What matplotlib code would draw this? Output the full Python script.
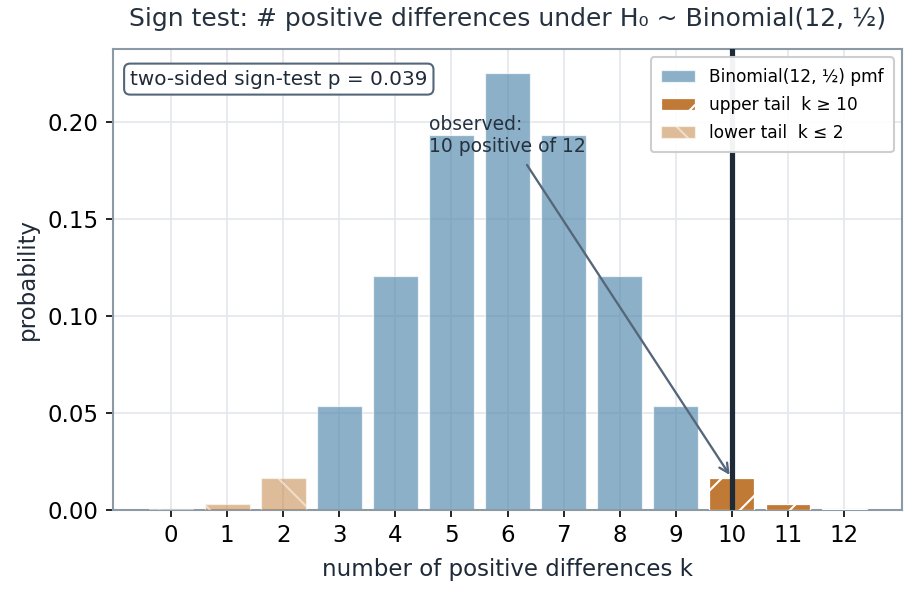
import matplotlib
matplotlib.use("Agg")
import matplotlib.pyplot as plt
import numpy as np

k_values = list(range(13))
pmf_values = [0.000244, 0.00293, 0.0161, 0.0537, 0.1208, 0.1934, 0.2256,
              0.1934, 0.1208, 0.0537, 0.0161, 0.00293, 0.000244]
observed_k = 10
n_trials = 12
p_value = 0.039
upper_tail = [10, 11, 12]
lower_tail = [0, 1, 2]

plt.rcParams['hatch.color'] = 'white'
plt.rcParams['hatch.linewidth'] = 1.0

fig = plt.figure(figsize=(6.12, 5.96 * 6.12 / 9.18), dpi=150)
ax = fig.add_axes([0.1228, 0.145, 0.8602, 0.773])

ax.grid(True, color="#e3e8ee", linewidth=0.8, zorder=0)
ax.set_axisbelow(True)

mid = [k for k in k_values if k not in upper_tail and k not in lower_tail]
ax.bar(mid, [pmf_values[k] for k in mid], width=0.8, color="#5b8fb0", alpha=0.7,
       edgecolor="white", linewidth=0.6, label="Binomial(12, ½) pmf", zorder=2)
ax.bar(upper_tail, [pmf_values[k] for k in upper_tail], width=0.8, color="#c07a35",
       edgecolor="white", linewidth=0.6, hatch="/", label="upper tail  k ≥ 10", zorder=3)
ax.bar(lower_tail, [pmf_values[k] for k in lower_tail], width=0.8, color="#c07a35",
       alpha=0.5, edgecolor="white", linewidth=0.6, hatch="\\", label="lower tail  k ≤ 2", zorder=3)

ax.axvline(observed_k, color="#1f2a38", linewidth=2.5, zorder=4)

ax.annotate("observed:\n10 positive of 12", xy=(observed_k, pmf_values[observed_k]),
            xytext=(4.6, 0.1935), va="center", ha="left", fontsize=9, color="#263140",
            arrowprops=dict(arrowstyle="->", color="#56667a", lw=1.1, mutation_scale=11,
                            shrinkA=3, shrinkB=2),
            zorder=5)

ax.text(0.022, 0.955, f"two-sided sign-test p = {p_value:.3f}", transform=ax.transAxes,
        fontsize=9.6, color="#1f2a38", va="top", ha="left",
        bbox=dict(boxstyle="round,pad=0.3", fc="white", ec="#56667a", lw=1.0), zorder=6)

ax.set_xticks(k_values)
ax.set_ylim(0, max(pmf_values) * 1.055)
ax.tick_params(labelsize=11)
for s in ax.spines.values():
    s.set_color("#8c9aa6")
    s.set_linewidth(1.0)

ax.set_xlabel("number of positive differences k", fontsize=11, color="#1f2a38", labelpad=5)
ax.set_ylabel("probability", fontsize=11, color="#1f2a38")
ax.set_title("Sign test: # positive differences under H₀ ~ Binomial(12, ½)", fontsize=12,
             color="#263140", pad=11)

leg = ax.legend(loc="upper right", fontsize=8.2, framealpha=0.95, edgecolor="#cccccc",
                labelspacing=0.6, borderpad=0.6)

fig.savefig("out.png", dpi=150)
